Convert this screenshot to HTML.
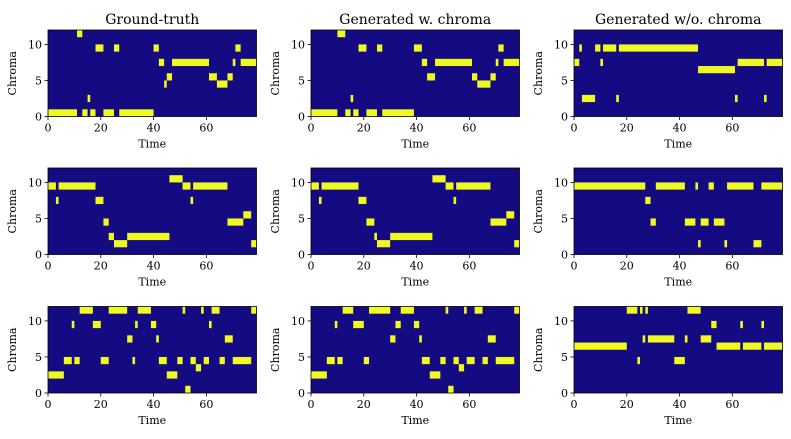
<!DOCTYPE html>
<html><head><meta charset="utf-8">
<style>
html,body{margin:0;padding:0;background:#fff;}
svg{display:block;font-family:"DejaVu Serif","Liberation Serif",serif;}
</style></head>
<body>
<svg id="fig" width="791" height="439" viewBox="0 0 791 439" xmlns="http://www.w3.org/2000/svg"></svg>
<script>
// Data: each panel lists active segments [chromaRow, startFrame, endFrameInclusive]
const titles = ["Ground-truth", "Generated w. chroma", "Generated w/o. chroma"];
const xTicks = [0, 20, 40, 60];
const yTicks = [0, 5, 10];
const nFrames = 79;
const nChroma = 12;

const p1 = [[11,11,12],[9,18,20],[9,25,26],[9,40,41],[9,71,72],[7,42,43],[7,47,60],[7,70,70],[7,73,78],[5,45,46],[5,61,63],[5,68,69],[4,44,44],[4,64,67],[2,15,15],[0,0,10],[0,13,14],[0,16,17],[0,21,24],[0,27,39]];
const p2 = [[11,10,12],[9,18,20],[9,25,26],[9,39,41],[9,71,72],[7,42,43],[7,47,60],[7,70,70],[7,73,78],[5,44,46],[5,61,62],[5,68,69],[4,63,67],[2,15,15],[0,0,9],[0,13,14],[0,16,17],[0,21,24],[0,27,38]];
const p3 = [[9,2,2],[9,8,9],[9,11,15],[9,17,46],[7,0,1],[7,10,10],[7,62,71],[7,73,78],[6,47,60],[2,3,7],[2,16,16],[2,61,61],[2,72,72]];
const p4 = [[10,46,50],[9,0,2],[9,4,17],[9,51,53],[9,55,67],[7,3,3],[7,18,20],[7,54,54],[5,74,76],[4,21,22],[4,68,73],[2,23,24],[2,30,45],[1,25,29],[1,77,78]];
const p5 = [[10,46,50],[9,0,2],[9,4,17],[9,51,53],[9,55,67],[7,3,3],[7,18,20],[7,54,54],[5,74,76],[4,21,23],[4,68,73],[2,24,24],[2,30,45],[1,25,29],[1,77,78]];
const p6 = [[9,0,26],[9,31,41],[9,46,46],[9,51,52],[9,58,67],[9,71,78],[7,27,28],[4,29,30],[4,42,45],[4,48,50],[4,53,56],[1,47,47],[1,57,57],[1,68,70]];
const p7 = [[11,12,16],[11,23,29],[11,34,38],[11,51,51],[11,58,58],[11,62,64],[11,77,78],[9,9,9],[9,17,19],[9,33,33],[9,39,40],[9,61,61],[7,30,31],[7,41,41],[7,67,69],[4,6,8],[4,10,11],[4,20,22],[4,32,32],[4,42,44],[4,49,50],[4,54,55],[4,59,60],[4,65,66],[4,70,76],[3,56,57],[2,0,5],[2,45,48],[0,52,53]];
const p8 = [[11,12,15],[11,22,29],[11,34,38],[11,51,51],[11,58,58],[11,62,64],[11,77,78],[9,9,9],[9,16,19],[9,32,33],[9,39,40],[7,30,31],[7,41,41],[7,67,69],[4,6,8],[4,10,11],[4,20,21],[4,42,44],[4,49,50],[4,54,55],[4,59,61],[4,65,66],[4,70,76],[3,56,57],[2,0,5],[2,45,48],[0,52,53]];
const p9 = [[11,20,23],[11,25,25],[11,27,27],[11,43,47],[9,52,53],[9,63,63],[9,71,71],[7,26,26],[7,28,37],[7,42,42],[7,48,51],[6,0,19],[6,54,62],[6,64,70],[6,72,78],[4,24,24],[4,38,41]];
const panels = [p1,p2,p3,p4,p5,p6,p7,p8,p9];

const NS = "http://www.w3.org/2000/svg";
const svg = document.getElementById('fig');
const colX = [48, 311, 574];
const rowY = [30, 168, 306.5];
const W = 208.5, H = 86.5;
function mk(tag, attrs, parent){const e=document.createElementNS(NS,tag);for(const k in attrs)e.setAttribute(k,attrs[k]);parent.appendChild(e);return e;}

panels.forEach((segs, i) => {
  const c = i % 3, r = Math.floor(i / 3);
  const x0 = colX[c], y0 = rowY[r];
  const xs = f => x0 + f * W / nFrames;
  const ys = v => y0 + H - v * H / nChroma;
  const g = mk('g', {}, svg);
  
  
  const bg = mk('rect', {x:x0, y:y0, width:W, height:H, fill:'#140b83'}, g);
  
  
  segs.forEach(s => {
    const cell = mk('rect', {x:xs(s[1]), y:ys(s[0] + 1), width:xs(s[2] + 1) - xs(s[1]), height:H / nChroma, fill:'#f0f921'}, g);
    
    
  });
  const fr = mk('rect', {x:x0, y:y0, width:W, height:H, fill:'none', stroke:'#000', 'stroke-width':0.8}, g);
  
  
  xTicks.forEach(t => {
    mk('line', {x1:xs(t), x2:xs(t), y1:y0 + H, y2:y0 + H + 3.5, stroke:'#000', 'stroke-width':0.8}, g);
    const tl = mk('text', {x:xs(t), y:y0 + H + 15, 'font-size':11, 'text-anchor':'middle', fill:'#000'}, g);
    tl.textContent = t;
    
    
  });
  yTicks.forEach(t => {
    mk('line', {x1:x0 - 3.5, x2:x0, y1:ys(t), y2:ys(t), stroke:'#000', 'stroke-width':0.8}, g);
    const tl = mk('text', {x:x0 - 6, y:ys(t) + 4, 'font-size':11, 'text-anchor':'end', fill:'#000'}, g);
    tl.textContent = t;
    
    
  });
  const xl = mk('text', {x:x0 + W / 2, y:y0 + H + 31, 'font-size':11, 'text-anchor':'middle', fill:'#000'}, g);
  xl.textContent = 'Time';
  
  
  const yl = mk('text', {x:0, y:0, 'font-size':11, 'text-anchor':'middle', fill:'#000', transform:'translate(' + (x0 - 32) + ',' + (y0 + H / 2) + ') rotate(-90)'}, g);
  yl.textContent = 'Chroma';
  
  
  if (r === 0) {
    const tt = mk('text', {x:x0 + W / 2, y:24, 'font-size':14, 'text-anchor':'middle', fill:'#000'}, g);
    tt.textContent = titles[c];
    
    
  }
});
</script>
</body></html>
